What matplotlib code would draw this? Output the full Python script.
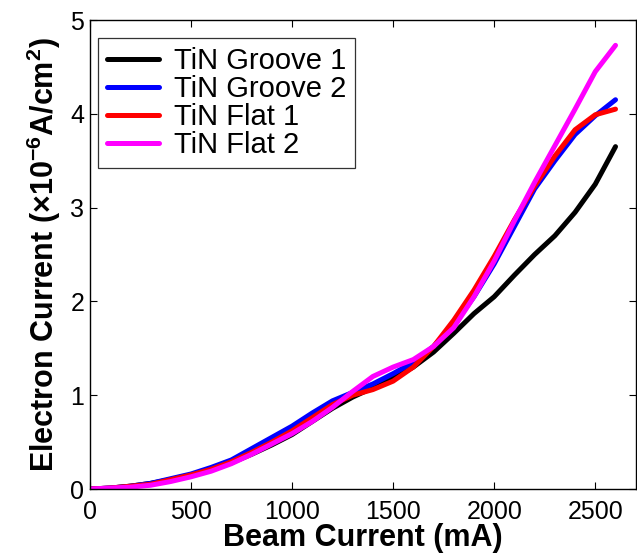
import matplotlib
matplotlib.use("Agg")
import matplotlib.pyplot as plt
import numpy as np

plt.rcParams['font.family'] = 'Liberation Sans'
plt.rcParams['mathtext.fontset'] = 'custom'
plt.rcParams['mathtext.rm'] = 'Liberation Sans:bold'
plt.rcParams['mathtext.bf'] = 'Liberation Sans:bold'

beam = [0, 100, 200, 300, 400, 500, 600, 700, 800, 900, 1000, 1100, 1200, 1300,
        1400, 1500, 1600, 1700, 1800, 1900, 2000, 2100, 2200, 2300, 2400, 2500, 2600]

groove1 = [0, 0.01, 0.03, 0.06, 0.10, 0.15, 0.21, 0.28, 0.37, 0.47, 0.58, 0.72, 0.86, 0.98,
           1.08, 1.18, 1.30, 1.46, 1.66, 1.87, 2.05, 2.28, 2.50, 2.70, 2.95, 3.25, 3.65]
groove2 = [0, 0.01, 0.03, 0.06, 0.11, 0.16, 0.23, 0.31, 0.43, 0.55, 0.67, 0.81, 0.94, 1.03,
           1.12, 1.23, 1.35, 1.52, 1.75, 2.05, 2.40, 2.80, 3.20, 3.50, 3.78, 3.98, 4.15]
flat1 = [0, 0.01, 0.03, 0.05, 0.10, 0.15, 0.21, 0.29, 0.39, 0.50, 0.62, 0.76, 0.90, 1.00,
         1.06, 1.15, 1.30, 1.52, 1.80, 2.12, 2.48, 2.87, 3.23, 3.55, 3.83, 3.99, 4.05]
flat2 = [0, 0.01, 0.02, 0.04, 0.08, 0.13, 0.19, 0.27, 0.37, 0.48, 0.59, 0.72, 0.87, 1.04,
         1.20, 1.30, 1.38, 1.52, 1.72, 2.05, 2.43, 2.86, 3.27, 3.66, 4.05, 4.45, 4.73]

series = [("TiN Groove 1", groove1, "black"),
          ("TiN Groove 2", groove2, "blue"),
          ("TiN Flat 1", flat1, "red"),
          ("TiN Flat 2", flat2, "magenta")]

fig = plt.figure(figsize=(6.37, 5.53), dpi=100)
ax = fig.add_axes([0.141, 0.1157, 0.857, 0.8481])

for label, vals, color in series:
    ax.plot(beam, vals, color=color, linewidth=3.6, label=label,
            solid_capstyle='round', solid_joinstyle='round')

ax.set_xlim(0, 2700)
ax.set_ylim(0, 5)
ax.set_xticks([0, 500, 1000, 1500, 2000, 2500])
ax.set_yticks([0, 1, 2, 3, 4, 5])
ax.tick_params(direction='in', top=True, right=True, length=5, width=0.8,
               labelsize=18)
ax.tick_params(axis='x', pad=8)
ax.tick_params(axis='y', pad=4)
for s in ax.spines.values():
    s.set_linewidth(1.0)

ax.set_xlabel("Beam Current (mA)", fontsize=22, fontweight='bold', labelpad=-1)
ax.set_ylabel(r"Electron Current ($\times$10$^{-6}$A/cm$^{2}$)", fontsize=22,
              fontweight='bold', labelpad=5)

leg = ax.legend(loc='upper left', fontsize=21, frameon=True, fancybox=False,
                edgecolor='black', handlelength=1.8, borderpad=0.3,
                labelspacing=0.0, handletextpad=0.5, borderaxespad=0,
                bbox_to_anchor=(0.015, 0.961))
leg.get_frame().set_linewidth(0.9)

fig.savefig("out.png", dpi=100)
